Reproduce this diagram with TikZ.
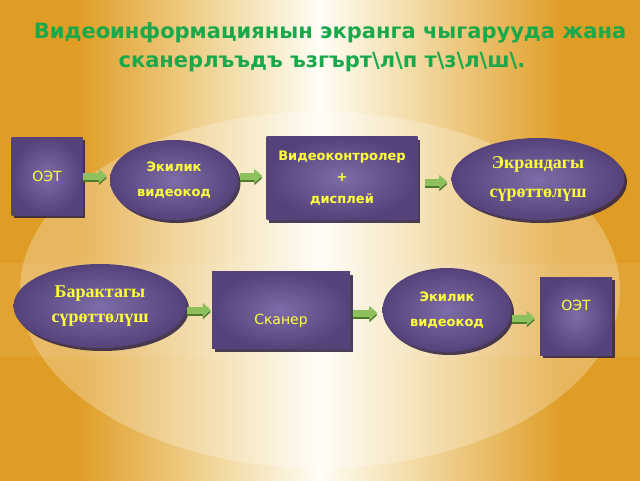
\documentclass[tikz,border=0pt]{standalone}
\usepackage{fontspec}
\setmainfont{DejaVu Sans}
\newfontfamily\serifk{Liberation Serif}
\usetikzlibrary{shapes.geometric,shadows,arrows.meta}
\definecolor{bgor}{HTML}{E09D26}
\definecolor{bgcr}{HTML}{F3DDA8}
\definecolor{bgwh}{HTML}{FFFDF6}
\definecolor{pin}{HTML}{7E6CA8}
\definecolor{pout}{HTML}{55427A}
\definecolor{pshd}{HTML}{2C1F42}
\definecolor{ytext}{HTML}{FFFF3A}
\definecolor{ttl}{HTML}{19A84A}
\definecolor{agreen}{HTML}{8EC05E}
\definecolor{adark}{HTML}{4E7A2C}
\pgfdeclarehorizontalshading{bgsh}{100bp}{color(0bp)=(bgor); color(31bp)=(bgor); color(43bp)=(bgcr); color(50bp)=(bgwh); color(57bp)=(bgcr); color(69bp)=(bgor); color(100bp)=(bgor)}
\tikzset{
  purp/.style={inner color=pin, outer color=pout, draw=none,
    drop shadow={shadow xshift=2.5pt, shadow yshift=-3pt, fill=pshd, opacity=0.85},
    text=ytext, align=center, inner sep=0pt},
  pbox/.style={purp, rectangle},
  pell/.style={purp, ellipse},
  sanst/.style={font=\bfseries\fontsize{13}{25}\selectfont},
  sanss/.style={font=\bfseries\fontsize{13}{21.5}\selectfont},
  sert/.style={font=\serifk\bfseries\fontsize{18}{29}\selectfont},
  plaintxt/.style={text=ytext, inner sep=0pt, font=\fontsize{14}{17}\selectfont},
  titletxt/.style={text=ttl, inner sep=0pt, font=\bfseries\fontsize{21}{25}\selectfont},
  garrow/.style={draw=agreen, line width=7pt, -{Triangle[length=8pt,width=14pt]},
    preaction={draw=adark, line width=7pt, -{Triangle[length=8pt,width=14pt]}, transform canvas={yshift=-2pt}}}
}
\begin{document}
\begin{tikzpicture}[x=1pt,y=-1pt]
\useasboundingbox (0,0) rectangle (640,480);
\shade[shading=bgsh] (0,0) rectangle (640,480);
\fill[white, opacity=0.26] (320,290) ellipse [x radius=300, y radius=178];
\fill[white, opacity=0.07] (0,263) rectangle (640,357);

\node[titletxt] (t1) at (330,33) {Видеоинформациянын экранга чыгарууда жана};
\node[titletxt] (t2) at (322,62) {сканерлъъдъ ъзгърт\textbackslash л\textbackslash п т\textbackslash з\textbackslash л\textbackslash ш\textbackslash .};

% row 1
\node[pbox, minimum width=71pt, minimum height=78pt, plaintxt] (oet1) at (47,176) {ОЭТ};
\node[pell, minimum width=128pt, minimum height=80pt, sanst] (ek1) at (174,180) {Экилик\\видеокод};
\node[pbox, minimum width=151pt, minimum height=83pt, sanss] (vc) at (342,178) {Видеоконтролер\\+\\дисплей};
\node[pell, minimum width=173pt, minimum height=82pt, sert] (scr) at (538,179) {Экрандагы\\сүрөттөлүш};

% row 2
\node[pell, minimum width=173pt, minimum height=84pt, sert, font=\serifk\bfseries\fontsize{18}{25}\selectfont] (bar) at (100,306) {Барактагы\\сүрөттөлүш};
\node[pbox, minimum width=138pt, minimum height=77pt] (scan) at (281,310) {};
\node[plaintxt] (scant) at ([yshift=-11pt]scan.center) {Сканер};
\node[pell, minimum width=129pt, minimum height=84pt, sanst] (ek2) at (447,310) {Экилик\\видеокод};
\node[pbox, minimum width=72pt, minimum height=78pt] (oet2) at (576,316) {};
\node[plaintxt] (oet2t) at ([yshift=11pt]oet2.center) {ОЭТ};

% arrows
\draw[garrow, shorten >=3pt] (oet1.east) -- (oet1.east -| ek1.west);
\draw[garrow, shorten <=2pt, shorten >=4pt] ([yshift=4pt]ek1.east) -- ([yshift=4pt]ek1.east -| vc.west);
\draw[garrow, shorten <=7pt, shorten >=4pt] ([yshift=-4pt]vc.east) -- ([yshift=-4pt]vc.east -| scr.west);
\draw[garrow, shorten >=1pt] ([yshift=-4pt]bar.east) -- ([yshift=-4pt]bar.east -| scan.west);
\draw[garrow, shorten <=3pt, shorten >=5pt] ([yshift=-3pt]scan.east) -- ([yshift=-3pt]scan.east -| ek2.west);
\draw[garrow, shorten >=5pt] ([yshift=-8pt]ek2.east) -- ([yshift=-8pt]ek2.east -| oet2.west);
\end{tikzpicture}
\end{document}
